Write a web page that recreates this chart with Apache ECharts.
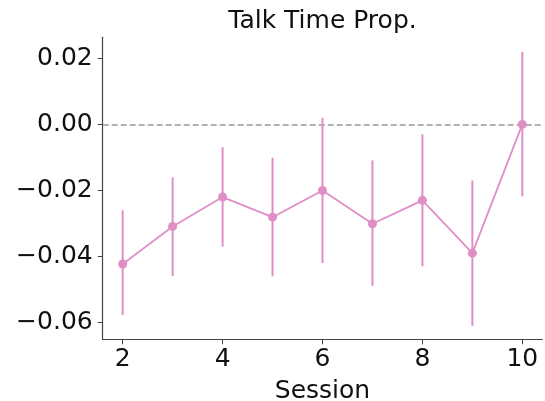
<!DOCTYPE html>
<html>
<head>
<meta charset="utf-8">
<script src="https://cdn.jsdelivr.net/npm/echarts@6/dist/echarts.min.js"></script>
<style>
  html, body { margin: 0; padding: 0; background: #fff; }
  #chart { width: 545px; height: 401px; }
</style>
</head>
<body>
<div id="chart"></div>
<script>
const titleText = 'Talk Time Prop.';
const xName = 'Session';
const sessions = [2, 3, 4, 5, 6, 7, 8, 9, 10];
const means = [-0.0423, -0.0309, -0.022, -0.0281, -0.020, -0.0301, -0.023, -0.039, 0.000];
const upper = [-0.026, -0.016, -0.0069, -0.0101, 0.002, -0.0109, -0.003, -0.017, 0.022];
const lower = [-0.0577, -0.0459, -0.037, -0.046, -0.042, -0.0489, -0.043, -0.061, -0.0218];
const xTicks = [2, 4, 6, 8, 10];
const yTicks = [-0.06, -0.04, -0.02, 0.00, 0.02];

const PINK = '#e08ec6';
const FONT = 'DejaVu Sans';
const TXT = '#111';

const chart = echarts.init(document.getElementById('chart'), null, { renderer: 'canvas' });

const lineData = sessions.map((s, i) => [s, means[i]]);
const errData = sessions.map((s, i) => [s, lower[i], upper[i]]);

function fmtY(v) {
  const r = Math.round(v * 100) / 100;
  if (Math.abs(r) < 1e-9) return '0.00';
  return (r < 0 ? '\u2212' : '') + Math.abs(r).toFixed(2);
}

chart.setOption({
  animation: false,
  backgroundColor: '#fff',
  title: {
    text: titleText,
    left: 322.5,
    textAlign: 'center',
    top: 9,
    padding: 0,
    textStyle: { fontFamily: FONT, fontSize: 25, fontWeight: 'normal', color: TXT }
  },
  grid: { left: 102.7, right: 2.7, top: 37.3, bottom: 61.7, containLabel: false, outerBoundsMode: 'none' },
  xAxis: {
    type: 'value',
    min: 1.6,
    max: 10.4,
    name: xName,
    nameLocation: 'middle',
    nameGap: 40,
    nameTextStyle: { fontFamily: FONT, fontSize: 25, color: TXT },
    axisLine: { show: true, onZero: false, lineStyle: { color: '#444', width: 1.2 } },
    axisTick: { show: true, length: 5, customValues: xTicks, lineStyle: { color: '#444', width: 1 } },
    axisLabel: { customValues: xTicks, margin: 8, fontFamily: FONT, fontSize: 25, color: TXT },
    splitLine: { show: false }
  },
  yAxis: {
    type: 'value',
    min: -0.0651,
    max: 0.0264,
    axisLine: { show: true, onZero: false, lineStyle: { color: '#444', width: 1.2 } },
    axisTick: { show: true, length: 5, customValues: yTicks, lineStyle: { color: '#444', width: 1 } },
    axisLabel: { customValues: yTicks, margin: 10, fontFamily: FONT, fontSize: 25, color: TXT, formatter: fmtY },
    splitLine: { show: false }
  },
  series: [
    {
      type: 'custom',
      name: 'err',
      data: errData,
      z: 2,
      renderItem: function (params, api) {
        const x = api.value(0);
        const p1 = api.coord([x, api.value(1)]);
        const p2 = api.coord([x, api.value(2)]);
        return {
          type: 'line',
          shape: { x1: p1[0], y1: p1[1], x2: p2[0], y2: p2[1] },
          style: { stroke: PINK, lineWidth: 2 }
        };
      },
      encode: { x: 0, y: [1, 2] },
      silent: true
    },
    {
      type: 'line',
      name: 'mean',
      data: lineData,
      z: 3,
      symbol: 'circle',
      symbolSize: 9,
      itemStyle: { color: PINK },
      lineStyle: { color: PINK, width: 1.8 },
      silent: true,
      markLine: {
        silent: true,
        symbol: ['none', 'none'],
        label: { show: false },
        z: 1,
        lineStyle: { color: '#999', type: [6, 3], width: 1.5 },
        data: [{ yAxis: 0 }]
      }
    }
  ]
});
</script>
</body>
</html>
